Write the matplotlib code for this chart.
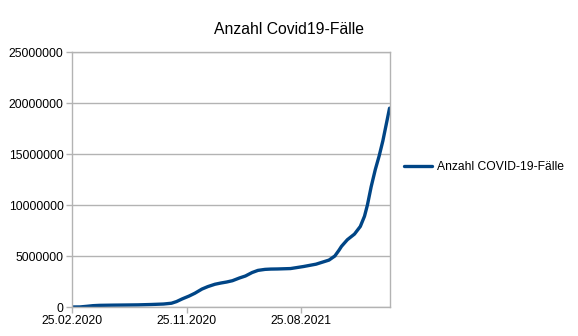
import matplotlib
matplotlib.use('Agg')
import matplotlib.pyplot as plt
import matplotlib.dates as mdates
import numpy as np
import datetime as dt

# Kumulierte Fallzahlen
daten = ["2020-02-25", "2020-03-15", "2020-04-01", "2020-04-15", "2020-05-01",
         "2020-06-01", "2020-07-01", "2020-08-01", "2020-09-01", "2020-10-01",
         "2020-10-20", "2020-11-01", "2020-11-15", "2020-12-01", "2020-12-15",
         "2021-01-01", "2021-01-15", "2021-02-01", "2021-02-15", "2021-03-01",
         "2021-03-15", "2021-04-01", "2021-04-15", "2021-05-01", "2021-05-15",
         "2021-06-01", "2021-06-15", "2021-07-01", "2021-08-01", "2021-09-01",
         "2021-10-01", "2021-11-01", "2021-11-15", "2021-11-25", "2021-12-01",
         "2021-12-15", "2022-01-01", "2022-01-15", "2022-01-25", "2022-02-01",
         "2022-02-10", "2022-02-20", "2022-03-01", "2022-03-10", "2022-03-18",
         "2022-03-26"]
faelle = [16, 5800, 70000, 130000, 162000,
          182000, 195000, 210000, 245000, 292000,
          370000, 530000, 800000, 1070000, 1350000,
          1760000, 2000000, 2230000, 2350000, 2450000,
          2580000, 2850000, 3040000, 3380000, 3590000,
          3690000, 3720000, 3730000, 3770000, 3970000,
          4200000, 4600000, 5000000, 5570000, 5950000,
          6600000, 7150000, 7900000, 8900000, 10000000,
          11800000, 13500000, 14800000, 16300000, 17900000,
          19500000]
tick_daten = ["2020-02-25", "2020-11-25", "2021-08-25"]
y_ticks = [0, 5000000, 10000000, 15000000, 20000000, 25000000]

plt.rcParams['font.family'] = ['Liberation Sans', 'DejaVu Sans']
grau = '#b3b3b3'

x = [dt.datetime.strptime(d, "%Y-%m-%d") for d in daten]
xt = [dt.datetime.strptime(d, "%Y-%m-%d") for d in tick_daten]

fig = plt.figure(figsize=(5.78, 3.36), dpi=100)
ax = fig.add_axes([0.1246, 0.0863, 0.5501, 0.7587])

ax.plot(x, faelle, color='#004586', linewidth=2.4, label='Anzahl COVID-19-Fälle',
        solid_capstyle='round', solid_joinstyle='round')

ax.set_xlim(x[0], x[-1] + dt.timedelta(days=1))
ax.set_ylim(0, 25000000)
ax.set_yticks(y_ticks)
ax.set_yticklabels([str(v) for v in y_ticks])
ax.set_xticks(xt)
ax.xaxis.set_major_formatter(mdates.DateFormatter('%d.%m.%Y'))
ax.grid(axis='y', color=grau, linewidth=1)
ax.set_axisbelow(True)
for s in ax.spines.values():
    s.set_color(grau)
    s.set_linewidth(1)
ax.tick_params(axis='both', colors=grau, length=4, width=1, labelsize=8.7,
               labelcolor='black', pad=2)

fig.suptitle('Anzahl Covid19-Fälle', x=0.5, y=0.935, fontsize=11.3)
fig.legend(loc='center left', bbox_to_anchor=(0.681, 0.503), frameon=False,
           fontsize=8.7, handlelength=2.3, handletextpad=0.4)

fig.savefig('out.png', dpi=100)
